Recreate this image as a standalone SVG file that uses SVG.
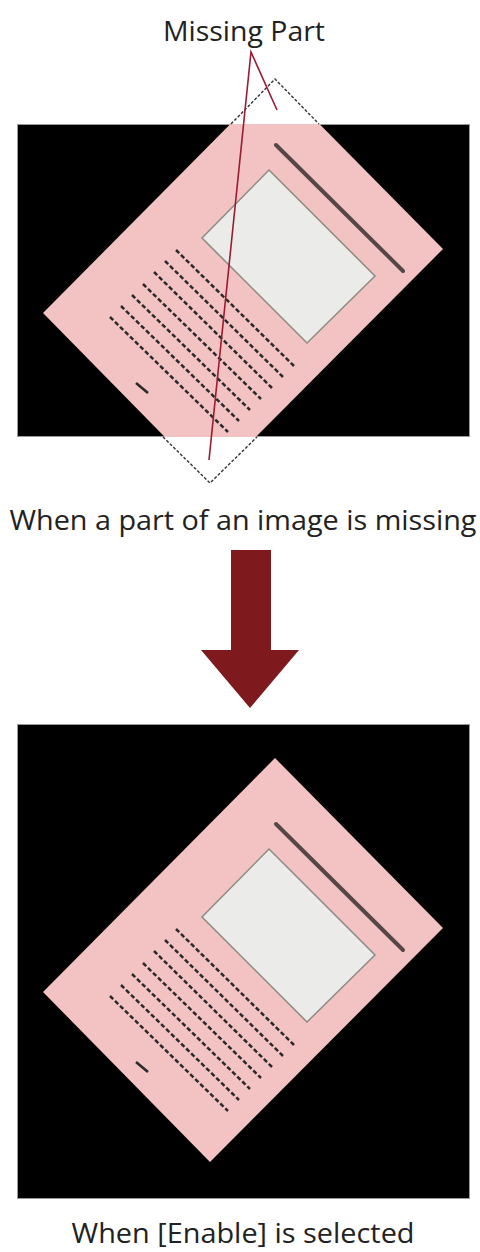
<svg xmlns="http://www.w3.org/2000/svg" width="480" height="1252" viewBox="0 0 480 1252">
  <style>
    .lbl { font-family: "Open Sans", "Liberation Sans", sans-serif; font-size: 28px; fill: #222; }
    .frame { fill: #000; stroke: #999; stroke-width: 1; }
    .paper { fill: #F3C2C2; }
    .photo { fill: #EBEBEA; stroke: #8C8C84; stroke-width: 1.5; }
    .head { stroke: #574646; stroke-width: 4; stroke-linecap: round; fill: none; }
    .txt { stroke: #2a2a2a; stroke-width: 2.5; stroke-dasharray: 4.5 2.5; fill: none; }
    .miss { fill: none; stroke: #333; stroke-width: 1.4; stroke-dasharray: 3 1.8; }
    .leader { fill: none; stroke: #9B1B30; stroke-width: 1.6; }
  </style>
  <defs>
    <g id="doc">
      <polygon class="paper" points="275,79 443,249 210,483 43,313"/>
      <polygon class="photo" points="269,170 375,276 307,343 202,238"/>
      <line class="head" x1="276" y1="145" x2="403" y2="271"/>
      <line class="txt" x1="176" y1="250" x2="294" y2="366"/>
      <line class="txt" x1="165" y1="261" x2="283" y2="377"/>
      <line class="txt" x1="154" y1="272" x2="272" y2="388"/>
      <line class="txt" x1="143" y1="284" x2="261" y2="399"/>
      <line class="txt" x1="132" y1="295" x2="250" y2="410"/>
      <line class="txt" x1="121" y1="306" x2="239" y2="421"/>
      <line class="txt" x1="110" y1="317" x2="228" y2="432"/>
      <line x1="136" y1="383" x2="148" y2="393" stroke="#2a2a2a" stroke-width="2.6"/>
    </g>
    <clipPath id="clipTop">
      <rect x="17" y="124" width="453" height="313"/>
    </clipPath>
  </defs>

  <g id="before">
    <rect class="frame" x="17.5" y="124.5" width="452" height="312"/>
    <g clip-path="url(#clipTop)">
      <use href="#doc"/>
    </g>
    <polyline class="miss" points="231,124 275,79 319,124"/>
    <polyline class="miss" points="163,437 210,483 257,437"/>
  </g>

  <g id="missing-label">
    <text class="lbl" x="244" y="41" text-anchor="middle" textLength="162" lengthAdjust="spacingAndGlyphs">Missing Part</text>
  </g>

  <g id="connectors">
    <polyline class="leader" points="277,110 251,52 209,460"/>
  </g>

  <g id="caption-before">
    <text class="lbl" x="243" y="530" text-anchor="middle" textLength="467" lengthAdjust="spacingAndGlyphs">When a part of an image is missing</text>
  </g>

  <g id="arrow">
    <polygon fill="#7E1A1E" points="231,550 271,550 271,650 299,650 250,708 201,650 231,650"/>
  </g>

  <g id="after">
    <rect class="frame" x="17.5" y="724.5" width="452" height="474"/>
    <use href="#doc" transform="translate(0,679)"/>
  </g>

  <g id="caption-after">
    <text class="lbl" x="243" y="1243" text-anchor="middle" textLength="343" lengthAdjust="spacingAndGlyphs">When [Enable] is selected</text>
  </g>
</svg>
